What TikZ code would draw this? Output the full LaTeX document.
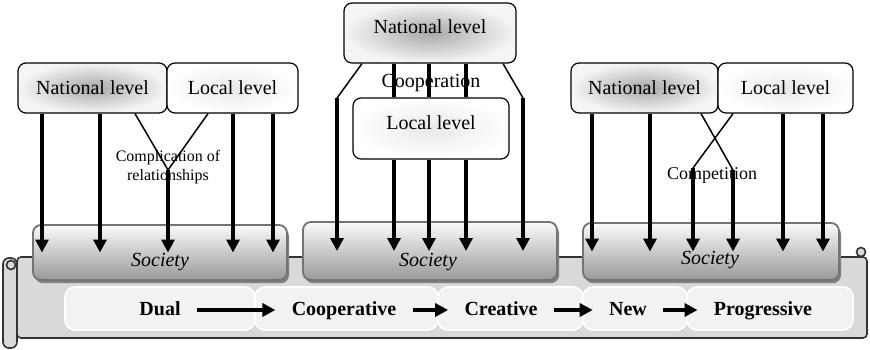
\documentclass[tikz,border=0pt]{standalone}
\usepackage{fontspec}
\setmainfont{Liberation Serif}
\usetikzlibrary{arrows.meta,shadows}

\tikzset{
  lvl/.style={draw, line width=0.6pt, rounded corners=4pt, minimum height=25pt, inner sep=1pt},
  natbox/.style={lvl, inner color=gray!68, outer color=gray!8},
  locbox/.style={lvl, inner color=gray!18, outer color=white},
  socbox/.style={draw=black!55, line width=0.9pt, rounded corners=4pt,
    top color=gray!4, bottom color=gray!80,
    drop shadow={shadow xshift=1pt, shadow yshift=-1.6pt, fill=black!50, opacity=1}},
  soctxt/.style={font=\itshape},
  scroll/.style={draw=black!80, line width=0.8pt, fill=gray!30},
  stage/.style={draw=white, line width=0.8pt, fill=gray!10, rounded corners=5pt},
  phase/.style={font=\bfseries, text height=7pt, text depth=2pt, inner xsep=8pt},
  feed/.style={line width=1.7pt, -{Triangle[length=6.5pt,width=6.5pt]}},
  link/.style={line width=1.7pt},
  thinlink/.style={line width=0.75pt}
}

\begin{document}
\begin{tikzpicture}[x=0.5pt, y={(0pt,-0.5pt)}]
  \useasboundingbox (0,0) rectangle (870,349);

  % the scroll along the bottom
  \draw[scroll, rounded corners=2pt] (17,257) rectangle (867,338);
  \draw[scroll] (861,252) circle (4.5);
  \draw[scroll, rounded corners=3pt] (3,258) rectangle (17,348);
  \draw[scroll] (11,265) circle (4.5);
  \foreach \a/\b in {65/255,255/438,438/583,583/687,687/853}
    \draw[stage] (\a,287) rectangle (\b,330);

  \node[phase] (dual) at (160,310) {Dual};
  \node[phase] (coop) at (344,310) {Cooperative};
  \node[phase] (crea) at (501,310) {Creative};
  \node[phase] (new)  at (628,310) {New};
  \node[phase] (prog) at (763,310) {Progressive};
  \foreach \a/\b in {dual/coop,coop/crea,crea/new,new/prog}
    \draw[feed] (\a) -- (\b);

  % society boxes
  \node[socbox, minimum width=127pt, minimum height=27.5pt] (soc1) at (160,252.5) {};
  \node[socbox, minimum width=127pt, minimum height=29pt] (soc2) at (430,251) {};
  \node[socbox, minimum width=128pt, minimum height=28.5pt] (soc3) at (711,251.5) {};
  \node[soctxt] (soc1t) at (160,262) {Society};
  \node[soctxt] (soc2t) at (428,262) {Society};
  \node[soctxt] (soc3t) at (710,260) {Society};

  % dual
  \node[natbox, minimum width=74.5pt] (nat1) at (92.5,88) {National level};
  \node[locbox, minimum width=65.5pt] (loc1) at (232.5,88) {Local level};
  \foreach \x in {42,100}
    \draw[feed] (\x,0 |- nat1.south) -- (\x,0 |- soc1.center);
  \foreach \x in {233,273}
    \draw[feed] (\x,0 |- loc1.south) -- (\x,0 |- soc1.center);
  \coordinate (v1) at (168,170);
  \draw[thinlink] (135,0 |- nat1.south) -- (v1) -- (208,0 |- loc1.south);
  \draw[feed] (v1) -- (v1 |- soc1.center);
  \node[font=\footnotesize, align=center] (cplx) at (168,167) {Complication of\\relationships};

  % cooperative
  \node[natbox, minimum width=86pt, minimum height=30pt] (nat2) at (430,33) {};
  \node (nat2t) at (430,27) {National level};
  \node[locbox, minimum width=78pt, minimum height=30.5pt] (loc2) at (431,128.5) {};
  \node (loc2t) at (431,123) {Local level};
  \foreach \x in {394,429,466} {
    \draw[link] (\x,0 |- nat2.south) -- (\x,0 |- loc2.north);
    \draw[feed] (\x,0 |- loc2.south) -- (\x,0 |- soc2.center);
  }
  \coordinate (o1) at (337,98);
  \coordinate (o2) at (523,98);
  \draw[thinlink] (362,0 |- nat2.south) -- (o1);
  \draw[thinlink] (503,0 |- nat2.south) -- (o2);
  \draw[feed] (o1) -- (o1 |- soc2.center);
  \draw[feed] (o2) -- (o2 |- soc2.center);
  \node (coopt) at (431,83) {Cooperation};

  % competitive
  \node[natbox, minimum width=73.5pt] (nat3) at (644.5,88) {National level};
  \node[locbox, minimum width=67.5pt] (loc3) at (785.5,88) {Local level};
  \foreach \x in {592,650}
    \draw[feed] (\x,0 |- nat3.south) -- (\x,0 |- soc3.center);
  \foreach \x in {783,823}
    \draw[feed] (\x,0 |- loc3.south) -- (\x,0 |- soc3.center);
  \coordinate (c1) at (733,170);
  \coordinate (c2) at (693,168);
  \draw[thinlink] (701,0 |- nat3.south) -- (c1);
  \draw[thinlink] (733,0 |- loc3.south) -- (c2);
  \draw[feed] (c1) -- (c1 |- soc3.center);
  \draw[feed] (c2) -- (c2 |- soc3.center);
  \node[font=\small] (compt) at (712,175) {Competition};
\end{tikzpicture}
\end{document}
